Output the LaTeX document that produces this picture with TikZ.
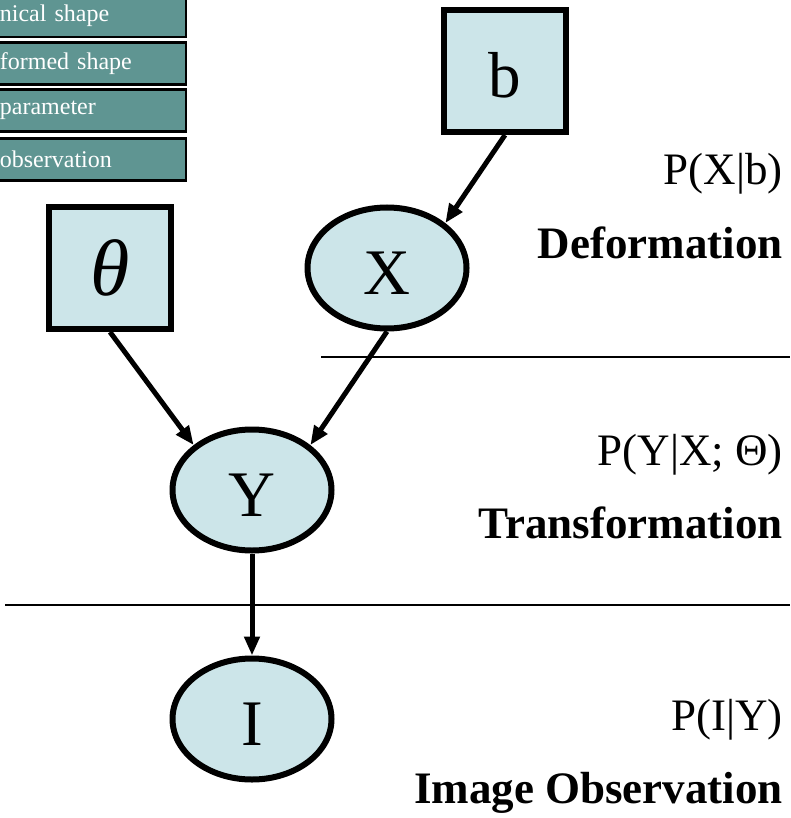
\documentclass[tikz,border=0pt]{standalone}
\usepackage{fontspec}
\setmainfont{Liberation Serif}
\usetikzlibrary{shapes.geometric, arrows.meta, positioning}

\definecolor{nodefill}{RGB}{204,229,233}
\definecolor{legendteal}{RGB}{95,149,146}

\begin{document}
\begin{tikzpicture}[
    x=1pt, y=-1pt,
    node distance=102pt,
    param/.style={rectangle, draw, line width=6pt, fill=nodefill, minimum size=122pt, inner sep=0pt, font=\fontsize{65}{70}\selectfont, text height=57pt, text depth=4pt},
    var/.style={ellipse, draw, line width=6pt, fill=nodefill, minimum width=159pt, minimum height=121pt, inner sep=0pt, font=\fontsize{65}{70}\selectfont, text height=57pt, text depth=4pt},
    legend/.style={rectangle, draw, line width=2.2pt, fill=legendteal, text=white, text width=176pt, inner xsep=10pt, inner ysep=0pt, minimum height=42pt, align=left, anchor=east, font=\fontsize{24}{28}\selectfont},
    probtext/.style={anchor=base east, inner sep=0pt, font=\fontsize{45}{50}\selectfont},
    layertext/.style={anchor=base east, inner sep=0pt, font=\fontsize{45}{50}\selectfont\bfseries},
    arrow/.style={-{Triangle[length=19pt, width=15pt]}, line width=5pt},
    layer/.style={line width=1.8pt}
]
    \useasboundingbox (0,0) rectangle (790,818);

    % legend, cut off at the left
    \node[legend] (leg1) at (187,16) {nical shape};
    \node[legend] (leg2) at (187,63.5) {formed shape};
    \node[legend] (leg3) at (187,110.5) {parameter};
    \node[legend] (leg4) at (187,159.5) {observation};

    % layers
    \draw[layer] (321,357) -- (790,357);
    \draw[layer] (5,605) -- (790,605);

    % graph
    \node[param] (b) at (505,71) {b};
    \node[param, font=\fontsize{80}{85}\selectfont\itshape, text height=, text depth=] (theta) at (110,268) {θ};
    \node[var] (X) at (387,268) {X};
    \node[var] (Y) at (252,490) {Y};
    \node[var, below=of Y] (I) {I};

    \draw[arrow] (b.south) -- (X.north east);
    \draw[arrow] (theta.south) -- (Y.north west);
    \draw[arrow] (X.south) -- (Y.north east);
    \draw[arrow] (Y) -- (I);

    % probabilities and names
    \node[probtext] (pxb) at (783,185) {P(X|b)};
    \node[layertext] (deform) at (783,258) {Deformation};
    \node[probtext] (pyx) at (783,465) {P(Y|X; Θ)};
    \node[layertext] (transf) at (783,538) {Transformation};
    \node[probtext] (piy) at (783,730) {P(I|Y)};
    \node[layertext] (obs) at (783,803) {Image Observation};
\end{tikzpicture}
\end{document}
